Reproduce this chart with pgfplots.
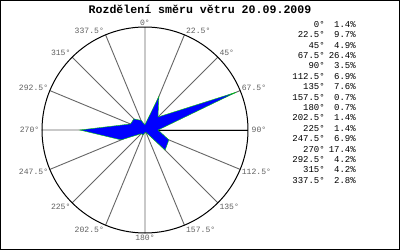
\documentclass[border=0pt]{standalone}
\usepackage{fontspec}
\setmainfont{Liberation Mono}
\setmonofont{Liberation Mono}
\usepackage{pgfplots}
\pgfplotsset{compat=1.18}
\usepgfplotslibrary{polar}
\tikzset{lbl/.style={font=\fontsize{8.1}{8.1}\selectfont, text=black!62, inner sep=1.5pt}}
\begin{document}
\begin{tikzpicture}[x=1pt,y=1pt]
\useasboundingbox (0,0) rectangle (400,250);
\fill[white] (0,0) rectangle (400,250);
\draw[line width=1.2pt] (0.6,0.9) rectangle (399.1,249.4);
\node[font=\bfseries\fontsize{11.6}{12}\selectfont, anchor=base] at (200,236.5) {Rozdělení směru větru 20.09.2009};
\begin{polaraxis}[
  at={(145pt,120pt)}, anchor=center,
  width=206pt, height=206pt, scale only axis,
  ymin=0, ymax=27.5,
  ytick=\empty,
  xtick={0,22.5,45,67.5,90,112.5,135,157.5,180,202.5,225,247.5,270,292.5,315,337.5},
  xticklabels={},
  xmajorgrids,
  grid style={draw=black!60, line width=0.9pt},
  axis line style={black, line width=1pt},
  major tick length=0pt,
  clip=false,
]
\addplot[draw=green!80!black, fill=blue, line width=0.4pt] coordinates {
  (90,1.4) (67.5,9.7) (45,4.9) (22.5,26.4) (0,3.5) (337.5,6.9) (315,7.6) (292.5,0.7)
  (270,0.7) (247.5,1.4) (225,1.4) (202.5,6.9) (180,17.4) (157.5,4.2) (135,4.2) (112.5,2.8)
  (90,1.4)
};
\node[lbl, anchor=south] at (axis cs:90,27.5) {0°};
\node[lbl, anchor=south west] at (axis cs:67.5,27.5) {22.5°};
\node[lbl, anchor=south west] at (axis cs:45,27.5) {45°};
\node[lbl, anchor=south west, yshift=-2pt] at (axis cs:22.5,27.5) {67.5°};
\node[lbl, anchor=west, xshift=2pt] at (axis cs:0,27.5) {90°};
\node[lbl, anchor=north west, yshift=2pt] at (axis cs:337.5,27.5) {112.5°};
\node[lbl, anchor=north west] at (axis cs:315,27.5) {135°};
\node[lbl, anchor=north west] at (axis cs:292.5,27.5) {157.5°};
\node[lbl, anchor=north] at (axis cs:270,27.5) {180°};
\node[lbl, anchor=north east] at (axis cs:247.5,27.5) {202.5°};
\node[lbl, anchor=north east] at (axis cs:225,27.5) {225°};
\node[lbl, anchor=north east, yshift=2pt] at (axis cs:202.5,27.5) {247.5°};
\node[lbl, anchor=east, xshift=-1pt] at (axis cs:180,27.5) {270°};
\node[lbl, anchor=south east, yshift=-2pt] at (axis cs:157.5,27.5) {292.5°};
\node[lbl, anchor=south east] at (axis cs:135,27.5) {315°};
\node[lbl, anchor=south east] at (axis cs:112.5,27.5) {337.5°};
\end{polaraxis}
\foreach \a/\p [count=\i from 0] in {0/1.4,22.5/9.7,45/4.9,67.5/26.4,90/3.5,112.5/6.9,135/7.6,157.5/0.7,180/0.7,202.5/1.4,225/1.4,247.5/6.9,270/17.4,292.5/4.2,315/4.2,337.5/2.8}{
  \node[font=\fontsize{9}{9}\selectfont, anchor=base east, inner sep=0pt] at (325,{250-27.3-\i*10.4}) {\a°};
  \node[font=\fontsize{9}{9}\selectfont, anchor=base east, inner sep=0pt] at (356,{250-27.3-\i*10.4}) {\p\%};
}
\end{tikzpicture}
\end{document}
